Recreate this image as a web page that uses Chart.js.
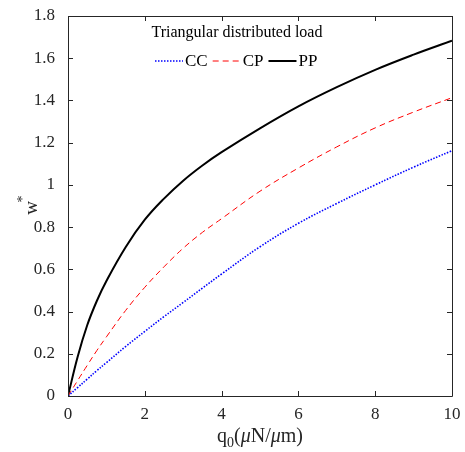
<!DOCTYPE html>
<html lang="en">
<head>
    <meta charset="UTF-8">
    <title>Triangular distributed load</title>
    <script src="https://cdn.jsdelivr.net/npm/chart.js"></script>
    <style>
        html, body { margin: 0; padding: 0; background: #fff; }
        #wrap { width: 465px; height: 452px; }
    </style>
</head>
<body>
    <div id="wrap"><canvas id="deflChart" width="465" height="452"></canvas></div>

    <script>
        // values
        const loads = [0, 0.25, 0.5, 0.75, 1, 1.5, 2, 2.5, 3, 3.5, 4, 5, 6, 7, 8, 9, 10];
        const wCC = [0, 0.04, 0.08, 0.12, 0.158, 0.234, 0.306, 0.376, 0.443, 0.511, 0.578, 0.707, 0.818, 0.912, 1.0, 1.084, 1.162];
        const wCP = [0, 0.073, 0.145, 0.215, 0.28, 0.405, 0.515, 0.612, 0.70, 0.775, 0.84, 0.97, 1.08, 1.18, 1.27, 1.345, 1.413];
        const wPP = [0, 0.185, 0.335, 0.45, 0.545, 0.705, 0.835, 0.935, 1.02, 1.092, 1.155, 1.268, 1.372, 1.463, 1.545, 1.617, 1.683];
        const xTicks = [0, 2, 4, 6, 8, 10];
        const yTicks = [0, 0.2, 0.4, 0.6, 0.8, 1, 1.2, 1.4, 1.6, 1.8];
        const seriesNames = ['CC', 'CP', 'PP'];

        const serif = '"Liberation Serif", "Times New Roman", serif';
        const axisColor = '#262626';

        const pts = vals => loads.map((x, i) => ({ x: x, y: vals[i] }));

        // frame, inward ticks, axis titles and legend in the MATLAB look
        const matlabFrame = {
            id: 'matlabFrame',
            afterDraw(chart) {
                const ctx = chart.ctx;
                const a = chart.chartArea;
                const xs = chart.scales.x, ys = chart.scales.y;
                ctx.save();
                ctx.strokeStyle = axisColor;
                ctx.lineWidth = 1;
                ctx.beginPath();
                ctx.rect(Math.round(a.left) + 0.5, Math.round(a.top) + 0.5,
                         Math.round(a.right - a.left), Math.round(a.bottom - a.top));
                ctx.stroke();
                const tl = 5;
                ctx.beginPath();
                xTicks.forEach(v => {
                    const px = Math.round(xs.getPixelForValue(v)) + 0.5;
                    ctx.moveTo(px, a.bottom); ctx.lineTo(px, a.bottom - tl);
                    ctx.moveTo(px, a.top); ctx.lineTo(px, a.top + tl);
                });
                yTicks.forEach(v => {
                    const py = Math.round(ys.getPixelForValue(v)) + 0.5;
                    ctx.moveTo(a.left, py); ctx.lineTo(a.left + tl, py);
                    ctx.moveTo(a.right, py); ctx.lineTo(a.right - tl, py);
                });
                ctx.stroke();

                // x axis title: q0(μN/μm)
                ctx.fillStyle = '#262626';
                ctx.textBaseline = 'alphabetic';
                const parts = [
                    { t: 'q', f: '20px ' + serif, dy: 0 },
                    { t: '0', f: '14px ' + serif, dy: 5 },
                    { t: '(', f: '20px ' + serif, dy: 0 },
                    { t: 'μ', f: 'italic 20px ' + serif, dy: 0 },
                    { t: 'N/', f: '20px ' + serif, dy: 0 },
                    { t: 'μ', f: 'italic 20px ' + serif, dy: 0 },
                    { t: 'm)', f: '20px ' + serif, dy: 0 }
                ];
                let total = 0;
                parts.forEach(p => { ctx.font = p.f; p.w = ctx.measureText(p.t).width; total += p.w; });
                let cx = (a.left + a.right) / 2 - total / 2;
                const base = 442;
                parts.forEach(p => {
                    ctx.font = p.f;
                    ctx.fillText(p.t, cx, base + p.dy);
                    cx += p.w;
                });

                // y axis title: w*
                ctx.save();
                ctx.translate(37, (a.top + a.bottom) / 2 + 2);
                ctx.rotate(-Math.PI / 2);
                ctx.font = '19px ' + serif;
                ctx.textAlign = 'center';
                ctx.fillText('w', 0, 0);
                ctx.font = '14px ' + serif;
                ctx.fillText('*', 9, -10);
                ctx.restore();

                // legend
                ctx.textAlign = 'center';
                ctx.font = '16px ' + serif;
                ctx.fillStyle = '#000';
                ctx.fillText('Triangular distributed load', 237, 37);
                const ly = 61;
                let lx = 155;
                chart.data.datasets.forEach(ds => {
                    ctx.save();
                    ctx.strokeStyle = ds.borderColor;
                    ctx.lineWidth = ds.borderWidth;
                    ctx.setLineDash(ds.borderDash || []);
                    ctx.beginPath();
                    ctx.moveTo(lx, ly); ctx.lineTo(lx + 28, ly);
                    ctx.stroke();
                    ctx.restore();
                    ctx.font = '17px ' + serif;
                    ctx.textAlign = 'left';
                    ctx.textBaseline = 'middle';
                    ctx.fillStyle = '#000';
                    ctx.fillText(ds.label, lx + 30, ly + 1);
                    lx += 30 + ctx.measureText(ds.label).width + 5;
                });
                ctx.restore();
            }
        };

        const ctx = document.getElementById('deflChart').getContext('2d');
        new Chart(ctx, {
            type: 'line',
            data: {
                datasets: [
                    { label: seriesNames[0], data: pts(wCC), borderColor: '#0000ff', borderWidth: 1.6, borderDash: [1.5, 1.5] },
                    { label: seriesNames[1], data: pts(wCP), borderColor: '#ff0000', borderWidth: 1, borderDash: [6, 4] },
                    { label: seriesNames[2], data: pts(wPP), borderColor: '#000000', borderWidth: 2 }
                ]
            },
            options: {
                responsive: false,
                animation: false,
                layout: { padding: { left: 0, top: 16, right: 13, bottom: 0 } },
                elements: {
                    point: { radius: 0 },
                    line: { tension: 0.4, fill: false }
                },
                scales: {
                    x: {
                        type: 'linear',
                        min: 0, max: 10,
                        grid: { display: false },
                        border: { display: false },
                        afterBuildTicks: s => { s.ticks = xTicks.map(v => ({ value: v })); },
                        afterFit: s => { s.height = 56; },
                        ticks: { color: '#262626', padding: 0, font: { family: serif, size: 17 } }
                    },
                    y: {
                        min: 0, max: 1.8,
                        grid: { display: false },
                        border: { display: false },
                        afterBuildTicks: s => { s.ticks = yTicks.map(v => ({ value: v })); },
                        afterFit: s => { s.width = 68; },
                        ticks: {
                            color: '#262626', padding: 5, font: { family: serif, size: 17 },
                            callback: v => String(Number(v.toFixed(1)))
                        }
                    }
                },
                plugins: {
                    legend: { display: false },
                    tooltip: { enabled: false }
                }
            },
            plugins: [matlabFrame]
        });
    </script>
</body>
</html>
